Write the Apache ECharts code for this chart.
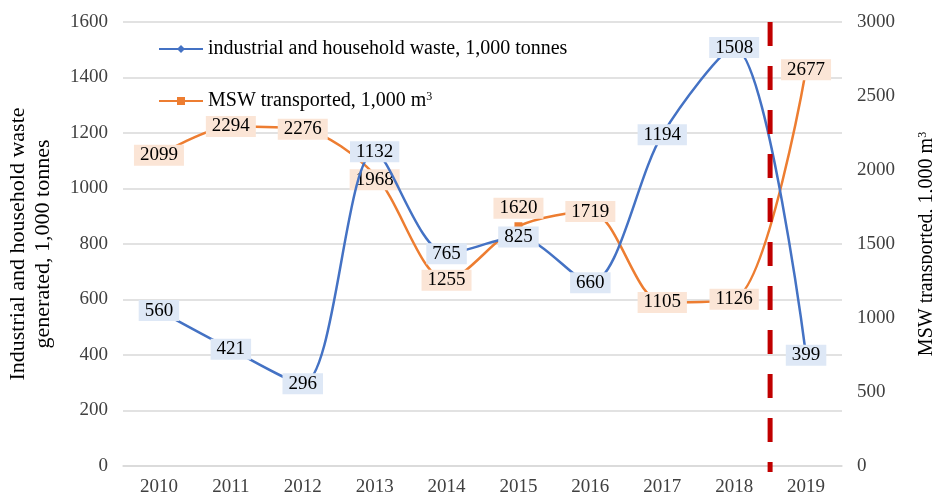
<!DOCTYPE html>
<html>
<head>
<meta charset="utf-8">
<script src="https://cdn.jsdelivr.net/npm/echarts@6/dist/echarts.min.js"></script>
<style>html,body{margin:0;padding:0;background:#fff}#c{width:932px;height:497px}</style>
</head>
<body>
<div id="c"></div>
<script>
const years = ['2010','2011','2012','2013','2014','2015','2016','2017','2018','2019'];
const wasteGenerated = [560, 421, 296, 1132, 765, 825, 660, 1194, 1508, 399];
const mswTransported = [2099, 2294, 2276, 1968, 1255, 1620, 1719, 1105, 1126, 2677];
const leftTicks = [0, 1600, 200];
const rightTicks = [0, 3000, 500];
const dividerPosition = 9; // boundary between the 2018 and 2019 category bands (0..10 scale)
const nameWaste = 'industrial and household waste, 1,000 tonnes';
const nameMsw = 'MSW transported, 1,000 m3';

const FONT = '"Liberation Serif", "Times New Roman", serif';
const blue = '#4472C4', orange = '#ED7D31';
const supStyle = {fontFamily: FONT, fontSize: 12, color: '#000', verticalAlign: 'top', padding: [0, 0, 8, 0]};

// label adjustments (Excel moved some labels)
const mswLabelOffsets = {5: [0, -18], 3: [0, 5]};

const chart = echarts.init(document.getElementById('c'));
chart.setOption({
  animation: false,
  grid: {left: 123, right: 90, top: 22, bottom: 31, containLabel: false, outerBoundsMode: 'none'},
  legend: {
    orient: 'vertical', left: 153, top: 34, itemGap: 32,
    itemWidth: 44, itemHeight: 10,
    textStyle: {fontFamily: FONT, fontSize: 20, color: '#000', rich: {sup: supStyle}},
    formatter: n => n === nameMsw ? 'MSW transported, 1,000 m{sup|3}' : n,
    data: [nameWaste, nameMsw]
  },
  xAxis: [{
    type: 'category', data: years, boundaryGap: true,
    axisLine: {show: true, lineStyle: {color: '#d9d9d9', width: 1.5}},
    axisTick: {show: false},
    axisLabel: {fontFamily: FONT, fontSize: 19, color: '#404040', margin: 12}
  }, {
    type: 'value', min: 0, max: 10, show: false
  }],
  yAxis: [{
    type: 'value', min: leftTicks[0], max: leftTicks[1], interval: leftTicks[2],
    name: 'Industrial and household waste\ngenerated, 1,000 tonnes',
    nameLocation: 'middle', nameRotate: 90, nameGap: 67,
    nameTextStyle: {fontFamily: FONT, fontSize: 22, color: '#000', lineHeight: 25, align: 'center'},
    axisLine: {show: false}, axisTick: {show: false},
    axisLabel: {fontFamily: FONT, fontSize: 19, color: '#404040', margin: 15, formatter: v => String(v)},
    splitLine: {lineStyle: {color: '#d9d9d9', width: 1.5}}
  }, {
    type: 'value', min: rightTicks[0], max: rightTicks[1], interval: rightTicks[2],
    position: 'right',
    name: 'MSW transported, 1,000 m{sup|3}',
    nameLocation: 'middle', nameRotate: 90, nameGap: 75,
    nameTextStyle: {fontFamily: FONT, fontSize: 20, color: '#000', rich: {sup: supStyle}},
    axisLine: {show: false}, axisTick: {show: false},
    axisLabel: {fontFamily: FONT, fontSize: 19, color: '#404040', margin: 15, formatter: v => String(v)},
    splitLine: {show: false}
  }],
  series: [{
    name: nameWaste, type: 'line', yAxisIndex: 0, data: wasteGenerated,
    smooth: 0.3, showSymbol: true, symbol: 'diamond', symbolSize: 9,
    lineStyle: {color: blue, width: 2.5}, itemStyle: {color: blue},
    label: {show: true, position: 'inside', fontFamily: FONT, fontSize: 19, color: '#000',
      lineHeight: 19, backgroundColor: '#DEE8F6', padding: [1, 6, 1, 6]},
    z: 3
  }, {
    name: nameMsw, type: 'line', yAxisIndex: 1,
    data: mswTransported.map((v, i) => mswLabelOffsets[i] ? {value: v, label: {offset: mswLabelOffsets[i]}} : v),
    smooth: 0.3, showSymbol: true, symbol: 'rect', symbolSize: 8,
    lineStyle: {color: orange, width: 2.5}, itemStyle: {color: orange},
    label: {show: true, position: 'inside', fontFamily: FONT, fontSize: 19, color: '#000',
      lineHeight: 19, backgroundColor: '#FBE5D6', padding: [1, 6, 1, 6]},
    z: 2
  }, {
    name: 'divider', type: 'line', xAxisIndex: 1, yAxisIndex: 0,
    data: [[dividerPosition, leftTicks[1]], [dividerPosition, -22]],
    clip: false, showSymbol: false, symbol: 'none', silent: true,
    lineStyle: {color: '#C00000', width: 5, type: [24, 20]},
    z: 4
  }]
});
</script>
</body>
</html>
